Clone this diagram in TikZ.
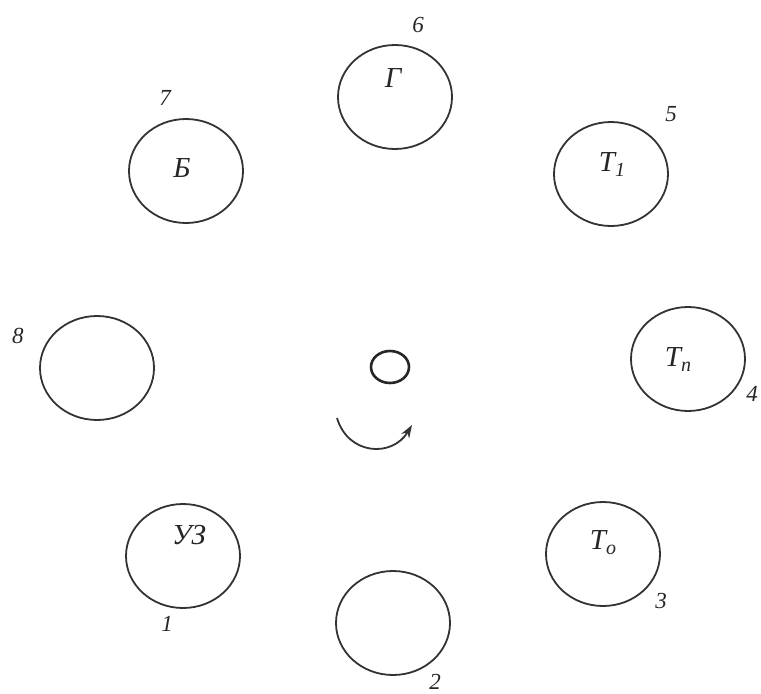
\documentclass[tikz,border=0pt]{standalone}
\usepackage{fontspec}
\setmainfont{Liberation Serif}
\usetikzlibrary{shapes.geometric,arrows.meta}
\newcommand{\subtx}[1]{\raisebox{-5pt}{\fontsize{20}{20}\selectfont #1}}
\begin{document}
\begin{tikzpicture}[x=1pt,y=-1pt,
  disc/.style={draw=black!80,line width=1.8pt,ellipse,minimum width=114pt,minimum height=104pt,inner sep=0pt},
  num/.style={font=\fontsize{23}{23}\selectfont\itshape,text=black!85},
  lett/.style={font=\fontsize{29}{29}\selectfont\itshape,text=black!85}]
\useasboundingbox (0,0) rectangle (761,694);
% circles
\node[disc] (c6) at (395,97) {};
\node[disc] (c7) at (186,171) {};
\node[disc] (c5) at (611,174) {};
\node[disc] (c8) at (97,368) {};
\node[disc] (c4) at (688,359) {};
\node[disc] (c1) at (183,556) {};
\node[disc] (c3) at (603,554) {};
\node[disc] (c2) at (393,623) {};
\node[draw=black!85,line width=2.6pt,ellipse,minimum width=38pt,minimum height=32pt,inner sep=0pt] (ctr) at (390,367) {};
% letters
\node[lett] (tG) at (393,78) {Г};
\node[lett] (tB) at (182,168) {Б};
\node[lett] (tT1) at (612,165) {T\subtx{1}};
\node[lett] (tTn) at (678,359) {T\subtx{n}};
\node[lett] (tTo) at (603,543) {T\subtx{o}};
\node[lett] (tU) at (189,535) {УЗ};
% numbers
\node[num] (n6) at (418,25) {6};
\node[num] (n7) at (165,98) {7};
\node[num] (n5) at (671,114) {5};
\node[num] (n8) at (18,336) {8};
\node[num] (n4) at (752,394) {4};
\node[num] (n1) at (167,624) {1};
\node[num] (n3) at (661,601) {3};
\node[num] (n2) at (435,682) {2};
% rotation arrow
\coordinate (a0) at (337,418);
\coordinate (a1) at (412,425);
\draw[line width=1.8pt,draw=black!80,-{Stealth[length=13pt,width=9pt]}] (a0) .. controls (348,455) and (392,458) .. (a1);
\end{tikzpicture}
\end{document}
